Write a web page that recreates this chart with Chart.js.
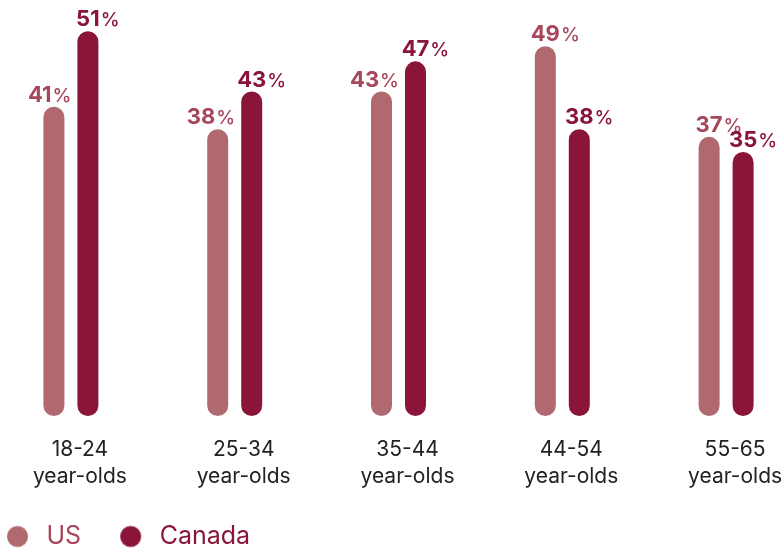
<!DOCTYPE html>
<html>
<head>
<meta charset="utf-8">
<script src="https://cdn.jsdelivr.net/npm/chart.js@4"></script>
<style>
  html, body { margin: 0; padding: 0; background: #fff; overflow: hidden; }
  body { width: 782px; height: 548px; position: relative; }
  #wrap { position: absolute; left: -32px; top: 0; width: 840px; height: 559px; }
</style>
</head>
<body>
<div id="wrap"><canvas id="ageChart"></canvas></div>
<script>
'use strict';

const ageGroups = [['18-24', 'year-olds'], ['25-34', 'year-olds'], ['35-44', 'year-olds'], ['44-54', 'year-olds'], ['55-65', 'year-olds']];
const seriesNames = ['US', 'Canada'];
const usValues = [41, 38, 43, 49, 37];
const canadaValues = [51, 43, 47, 38, 35];

const barColors = ['#b0696e', '#8a1538'];
const textColors = ['#a6475c', '#8a1538'];

// round legend marker, drawn a bit right of the box so the text gap matches
function legendDot(color) {
  const c = document.createElement('canvas');
  c.width = 60;
  c.height = 30;
  const g = c.getContext('2d');
  g.fillStyle = color;
  g.beginPath();
  g.arc(36.5, 15, 10.5, 0, Math.PI * 2);
  g.fill();
  return c;
}

// value labels: number bold, lighter % after it
const valueLabels = {
  id: 'valueLabels',
  afterDatasetsDraw(chart) {
    const ctx = chart.ctx;
    const numFont = 'bold 22px Inter';
    const pctFont = '500 19px Inter';
    ctx.save();
    ctx.textBaseline = 'alphabetic';
    ctx.textAlign = 'left';
    chart.data.datasets.forEach((ds, di) => {
      const meta = chart.getDatasetMeta(di);
      meta.data.forEach((bar, i) => {
        const num = String(ds.data[i]);
        ctx.font = numFont;
        const nw = ctx.measureText(num).width;
        ctx.font = pctFont;
        const pw = ctx.measureText('%').width;
        let left = bar.x - nw / 2;
        if (di === 0) {
          // keep the US label clear of a taller Canada bar
          const other = chart.getDatasetMeta(1).data[i];
          if (usValues[i] < canadaValues[i]) {
            const limit = other.x - other.width / 2 - 7;
            if (left + nw + pw > limit) left = limit - nw - pw;
          }
        }
        const y = bar.y - 5;
        ctx.fillStyle = textColors[di];
        ctx.font = numFont;
        ctx.fillText(num, left, y);
        ctx.font = pctFont;
        ctx.fillText('%', left + nw + 1, y);
      });
    });
    ctx.restore();
  }
};

const chartData = {
  labels: ageGroups,
  datasets: [
    { label: seriesNames[0], data: usValues, backgroundColor: barColors[0] },
    { label: seriesNames[1], data: canadaValues, backgroundColor: barColors[1] }
  ]
};

const ageChart = new Chart(document.getElementById('ageChart'), {
  type: 'bar',
  data: chartData,
  options: {
    responsive: true,
    maintainAspectRatio: false,
    animation: false,
    layout: { padding: { top: 1, left: 0, right: 0, bottom: 0 } },
    datasets: {
      bar: {
        categoryPercentage: 0.415,
        barPercentage: 0.618,
        borderRadius: 20,
        borderSkipped: false
      }
    },
    scales: {
      x: {
        grid: { display: false, drawTicks: false },
        border: { display: false },
        ticks: {
          color: '#222',
          font: { family: 'Inter', size: 21, lineHeight: '27px' },
          padding: 20,
          labelOffset: 9,
          maxRotation: 0,
          autoSkip: false
        },
        afterFit(scale) { scale.height = 88; }
      },
      y: {
        min: 0,
        max: 55,
        grid: { display: false, drawTicks: false },
        border: { display: false },
        ticks: { display: false },
        afterFit(scale) { scale.width = 21; }
      }
    },
    plugins: {
      tooltip: { enabled: false },
      legend: {
        position: 'bottom',
        align: 'start',
        labels: {
          usePointStyle: true,
          pointStyleWidth: 46,
          padding: 20,
          font: { family: 'Inter', size: 25 },
          generateLabels(chart) {
            return chart.data.datasets.map((ds, i) => ({
              text: ds.label,
              fillStyle: barColors[i],
              strokeStyle: 'rgba(0,0,0,0)',
              lineWidth: 0,
              fontColor: textColors[i],
              pointStyle: legendDot(barColors[i]),
              hidden: false,
              datasetIndex: i
            }));
          }
        }
      }
    }
  },
  plugins: [valueLabels]
});
</script>
</body>
</html>
